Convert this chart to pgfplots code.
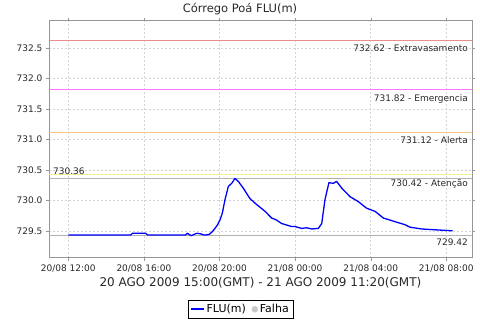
\documentclass[border=0pt]{standalone}
\usepackage{pgfplots}
\pgfplotsset{compat=1.18}
\usepackage{fontspec}
\setmainfont{DejaVu Sans}
\definecolor{cExtra}{RGB}{236,140,140}
\definecolor{cEmer}{rgb}{1,0.45,1}
\definecolor{cAlert}{RGB}{255,200,130}
\definecolor{cAten}{RGB}{238,238,140}
\definecolor{cGray}{RGB}{178,178,178}
\definecolor{cGrid}{RGB}{212,212,212}
\definecolor{cAxis}{RGB}{150,150,150}
\definecolor{cText}{RGB}{40,40,40}
\definecolor{cBlue}{rgb}{0,0,1}
\pgfplotstableread{
h v
12.00 729.43
15.30 729.43
15.40 729.46
16.10 729.46
16.20 729.43
18.20 729.43
18.30 729.46
18.50 729.42
18.80 729.46
19.00 729.45
19.20 729.43
19.45 729.44
19.60 729.48
19.76 729.54
19.90 729.60
20.03 729.68
20.15 729.79
20.29 730.01
20.47 730.23
20.65 730.28
20.82 730.36
21.00 730.31
21.26 730.20
21.61 730.03
21.97 729.93
22.41 729.82
22.76 729.71
23.00 729.68
23.29 729.62
23.82 729.57
24.00 729.57
24.35 729.54
24.61 729.55
24.88 729.53
25.23 729.54
25.41 729.62
25.58 730.01
25.79 730.29
26.02 730.28
26.20 730.31
26.47 730.20
26.91 730.06
27.34 729.98
27.79 729.87
28.23 729.82
28.67 729.71
29.29 729.65
29.82 729.60
30.08 729.56
30.70 729.53
31.23 729.52
32.33 729.50
}\flu
\begin{document}
\begin{tikzpicture}
\begin{axis}[
  scale only axis,
  width=423pt, height=237pt,
  xmin=10.98, xmax=33.36,
  ymin=729.06, ymax=732.95,
  axis line style={draw=cAxis},
  xtick={12,16,20,24,28,32},
  xticklabels={20/08 12:00,20/08 16:00,20/08 20:00,21/08 00:00,21/08 04:00,21/08 08:00},
  ytick={729.5,730,730.5,731,731.5,732,732.5},
  yticklabels={729.5,730.0,730.5,731.0,731.5,732.0,732.5},
  tick align=outside,
  major tick length=3pt,
  tick style={draw=cAxis},
  grid=major,
  major grid style={draw=cGrid, dash pattern=on 2pt off 2pt, line width=0.5pt},
  tick label style={font=\fontsize{9}{11}\selectfont, text=cText},
  /pgf/number format/assume math mode=true,
  xticklabel style={yshift=-1pt},
  xlabel={20 AGO 2009 15:00(GMT) - 21 AGO 2009 11:20(GMT)},
  xlabel style={at={(axis description cs:0.5,-0.108)}, anchor=center, font=\fontsize{12}{14}\selectfont, text=cText},
  legend style={at={(0.4527,-0.218)}, anchor=center,
    font=\fontsize{11}{13}\selectfont, legend columns=2, inner sep=2pt,
    /tikz/every even column/.append style={column sep=4pt}},
  legend cell align=left,
  clip mode=individual,
]
\coordinate (O) at (rel axis cs:0,0);
\addplot[forget plot, draw=cExtra, line width=0.9pt] coordinates {(10.98,732.62) (33.36,732.62)};
\addplot[forget plot, draw=cEmer, line width=1.2pt] coordinates {(10.98,731.82) (33.36,731.82)};
\addplot[forget plot, draw=cAlert, line width=0.9pt] coordinates {(10.98,731.12) (33.36,731.12)};
\addplot[forget plot, draw=cAten, line width=0.9pt] coordinates {(10.98,730.42) (33.36,730.42)};
\addplot[forget plot, draw=cGray, line width=0.8pt] coordinates {(10.98,730.36) (33.36,730.36)};
\addplot[forget plot, draw=cGray, line width=0.8pt] coordinates {(10.98,729.42) (33.36,729.42)};
\addplot[forget plot, draw=cBlue, line width=1.3pt, line join=round] table[x=h, y=v] {\flu};
\addlegendimage{draw=cBlue, line width=1.6pt, xscale=0.75}
\addlegendentry{FLU(m)}
\addlegendimage{only marks, mark=*, mark size=3pt, draw=cGray!70, fill=cGray!70}
\addlegendentry{Falha}
\begin{scope}[every node/.style={font=\fontsize{9}{10}\selectfont, text=cText, inner sep=0pt}]
\node[anchor=north east] at (axis cs:33.36,732.62) [xshift=-4pt, yshift=-4pt] {732.62 - Extravasamento};
\node[anchor=north east] at (axis cs:33.36,731.82) [xshift=-4pt, yshift=-5pt] {731.82 - Emergencia};
\node[anchor=north east] at (axis cs:33.36,731.12) [xshift=-4pt, yshift=-4pt] {731.12 - Alerta};
\node[anchor=north east] at (axis cs:33.36,730.42) [xshift=-4pt, yshift=-4.5pt] {730.42 - Atenção};
\node[anchor=north east] at (axis cs:33.36,729.42) [xshift=-4pt, yshift=-2.5pt] {729.42};
\node[anchor=south west] at (axis cs:10.98,730.36) [xshift=4pt, yshift=4pt] {730.36};
\end{scope}
\end{axis}
\node[font=\fontsize{11.5}{13}\selectfont, text=cText] at (O) [xshift=191pt, yshift=248.5pt] {Córrego Poá FLU(m)};
\path[use as bounding box] (O) ++(-49pt,-64pt) rectangle ++(480pt,320pt);
\end{tikzpicture}
\end{document}
